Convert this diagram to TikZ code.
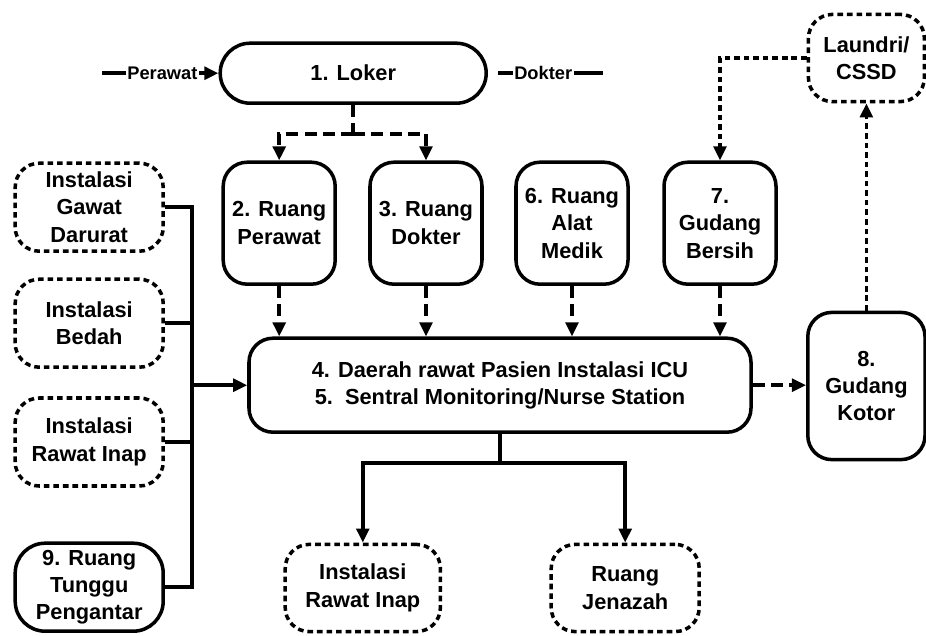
\documentclass[tikz,border=0pt]{standalone}
\usepackage{fontspec}
\setmainfont{Liberation Sans}
\usetikzlibrary{positioning, arrows.meta, calc}

\begin{document}
\begin{tikzpicture}[
      every node/.style={font=\fontsize{15.5}{19.5}\selectfont\bfseries},
      room/.style={draw, line width=2.5pt, rounded corners=0.6cm, fill=white,
                   align=center, inner sep=2pt},
      extunit/.style={draw, line width=2.5pt, dash pattern=on 4pt off 2.8pt,
                      rounded corners=0.6cm, fill=white, align=center, inner sep=2pt},
      tall/.style={minimum width=2.8cm, minimum height=3.05cm},
      side/.style={minimum width=3.7cm, minimum height=2.2cm},
      link/.style={line width=2.5pt},
      dlink/.style={line width=2.5pt, dash pattern=on 8.5pt off 4.5pt},
      dotlink/.style={line width=2.5pt, dash pattern=on 4pt off 2.8pt},
      tag/.style={font=\fontsize{13}{15}\selectfont\bfseries, inner sep=1pt},
      >={Triangle[length=10pt, width=9pt]},
    ]
    \useasboundingbox (0,0) rectangle (23.15,-15.875);

    % locker with the two entries
    \node[room, minimum width=6.65cm, minimum height=1.5cm, rounded corners=0.75cm]
      (loker) at (8.83,-1.83) {1. Loker};
    \coordinate (pwin) at (2.55,-1.83);
    \node[tag] (pw) at (4.06,-1.83) {Perawat};
    \draw[link] (pwin) -- (pw);
    \draw[link, ->] (pw) -- (loker);
    \coordinate (dkin)  at (12.45,-1.83);
    \coordinate (dkout) at (15.08,-1.83);
    \node[tag] (dk) at (13.58,-1.83) {Dokter};
    \draw[link] (dkin) -- (dk) -- (dkout);

    % support rooms
    \node[room, tall] (perawat) at (6.98,-5.58)  {2. Ruang\\Perawat};
    \node[room, tall] (dokter)  at (10.65,-5.58) {3. Ruang\\Dokter};
    \node[room, tall] (alat)    at (14.3,-5.58)  {6. Ruang\\Alat\\Medik};
    \node[room, tall] (bersih)  at (18.0,-5.58)  {7.\\Gudang\\Bersih};

    \draw[dlink] (loker.south) -- ++(0,-0.72) coordinate (lsplit);
    \draw[dlink, ->] (lsplit) -| (perawat);
    \draw[dlink, ->] (lsplit) -| (dokter);

    % care area
    \node[room, minimum width=12.55cm, minimum height=2.35cm] (icu) at (12.5,-9.63)
      {4. Daerah rawat Pasien Instalasi ICU\\5.\ \ Sentral Monitoring/Nurse Station};
    \foreach \n in {perawat, dokter, alat, bersih}
      \draw[dlink, ->] (\n) -- (\n |- icu.north);

    % dirty store and laundry
    \node[room, minimum width=2.93cm, minimum height=3.68cm] (kotor) at (21.66,-9.65)
      {8.\\Gudang\\Kotor};
    \node[extunit, minimum width=2.9cm, minimum height=2.18cm] (laundri) at (21.66,-1.45)
      {Laundri/\\CSSD};
    \draw[dlink, ->] (icu.east) -- (icu.east -| kotor.west);
    \draw[dotlink, ->] (kotor) -- (laundri);
    \draw[dotlink, ->] (laundri.west) -| (bersih);

    % incoming units
    \node[extunit, side] (igd)    at (2.23,-5.18)  {Instalasi\\Gawat\\Darurat};
    \node[extunit, side] (bedah)  at (2.23,-8.08)  {Instalasi\\Bedah};
    \node[extunit, side] (inap)   at (2.23,-11.05) {Instalasi\\Rawat Inap};
    \node[room, side, rounded corners=0.75cm] (tunggu) at (2.23,-14.68)
      {9. Ruang\\Tunggu\\Pengantar};
    \coordinate (bus) at (4.8,-9.7);
    \draw[link] (igd.east) -- (igd.east -| bus) -- (tunggu.east -| bus) -- (tunggu.east);
    \draw[link] (bedah.east) -- (bedah.east -| bus);
    \draw[link] (inap.east) -- (inap.east -| bus);
    \draw[link, ->] (icu.west -| bus) -- (icu.west);

    % outgoing
    \node[extunit, minimum width=3.88cm, minimum height=2.18cm] (inapout) at (9.07,-14.7)
      {Instalasi\\Rawat Inap};
    \node[extunit, minimum width=3.7cm, minimum height=2.18cm] (jenazah) at (15.63,-14.7)
      {Ruang\\Jenazah};
    \draw[link] (icu.south) -- ++(0,-0.72) coordinate (bsplit);
    \draw[link, ->] (bsplit) -| (inapout);
    \draw[link, ->] (bsplit) -| (jenazah);
  \end{tikzpicture}
\end{document}
